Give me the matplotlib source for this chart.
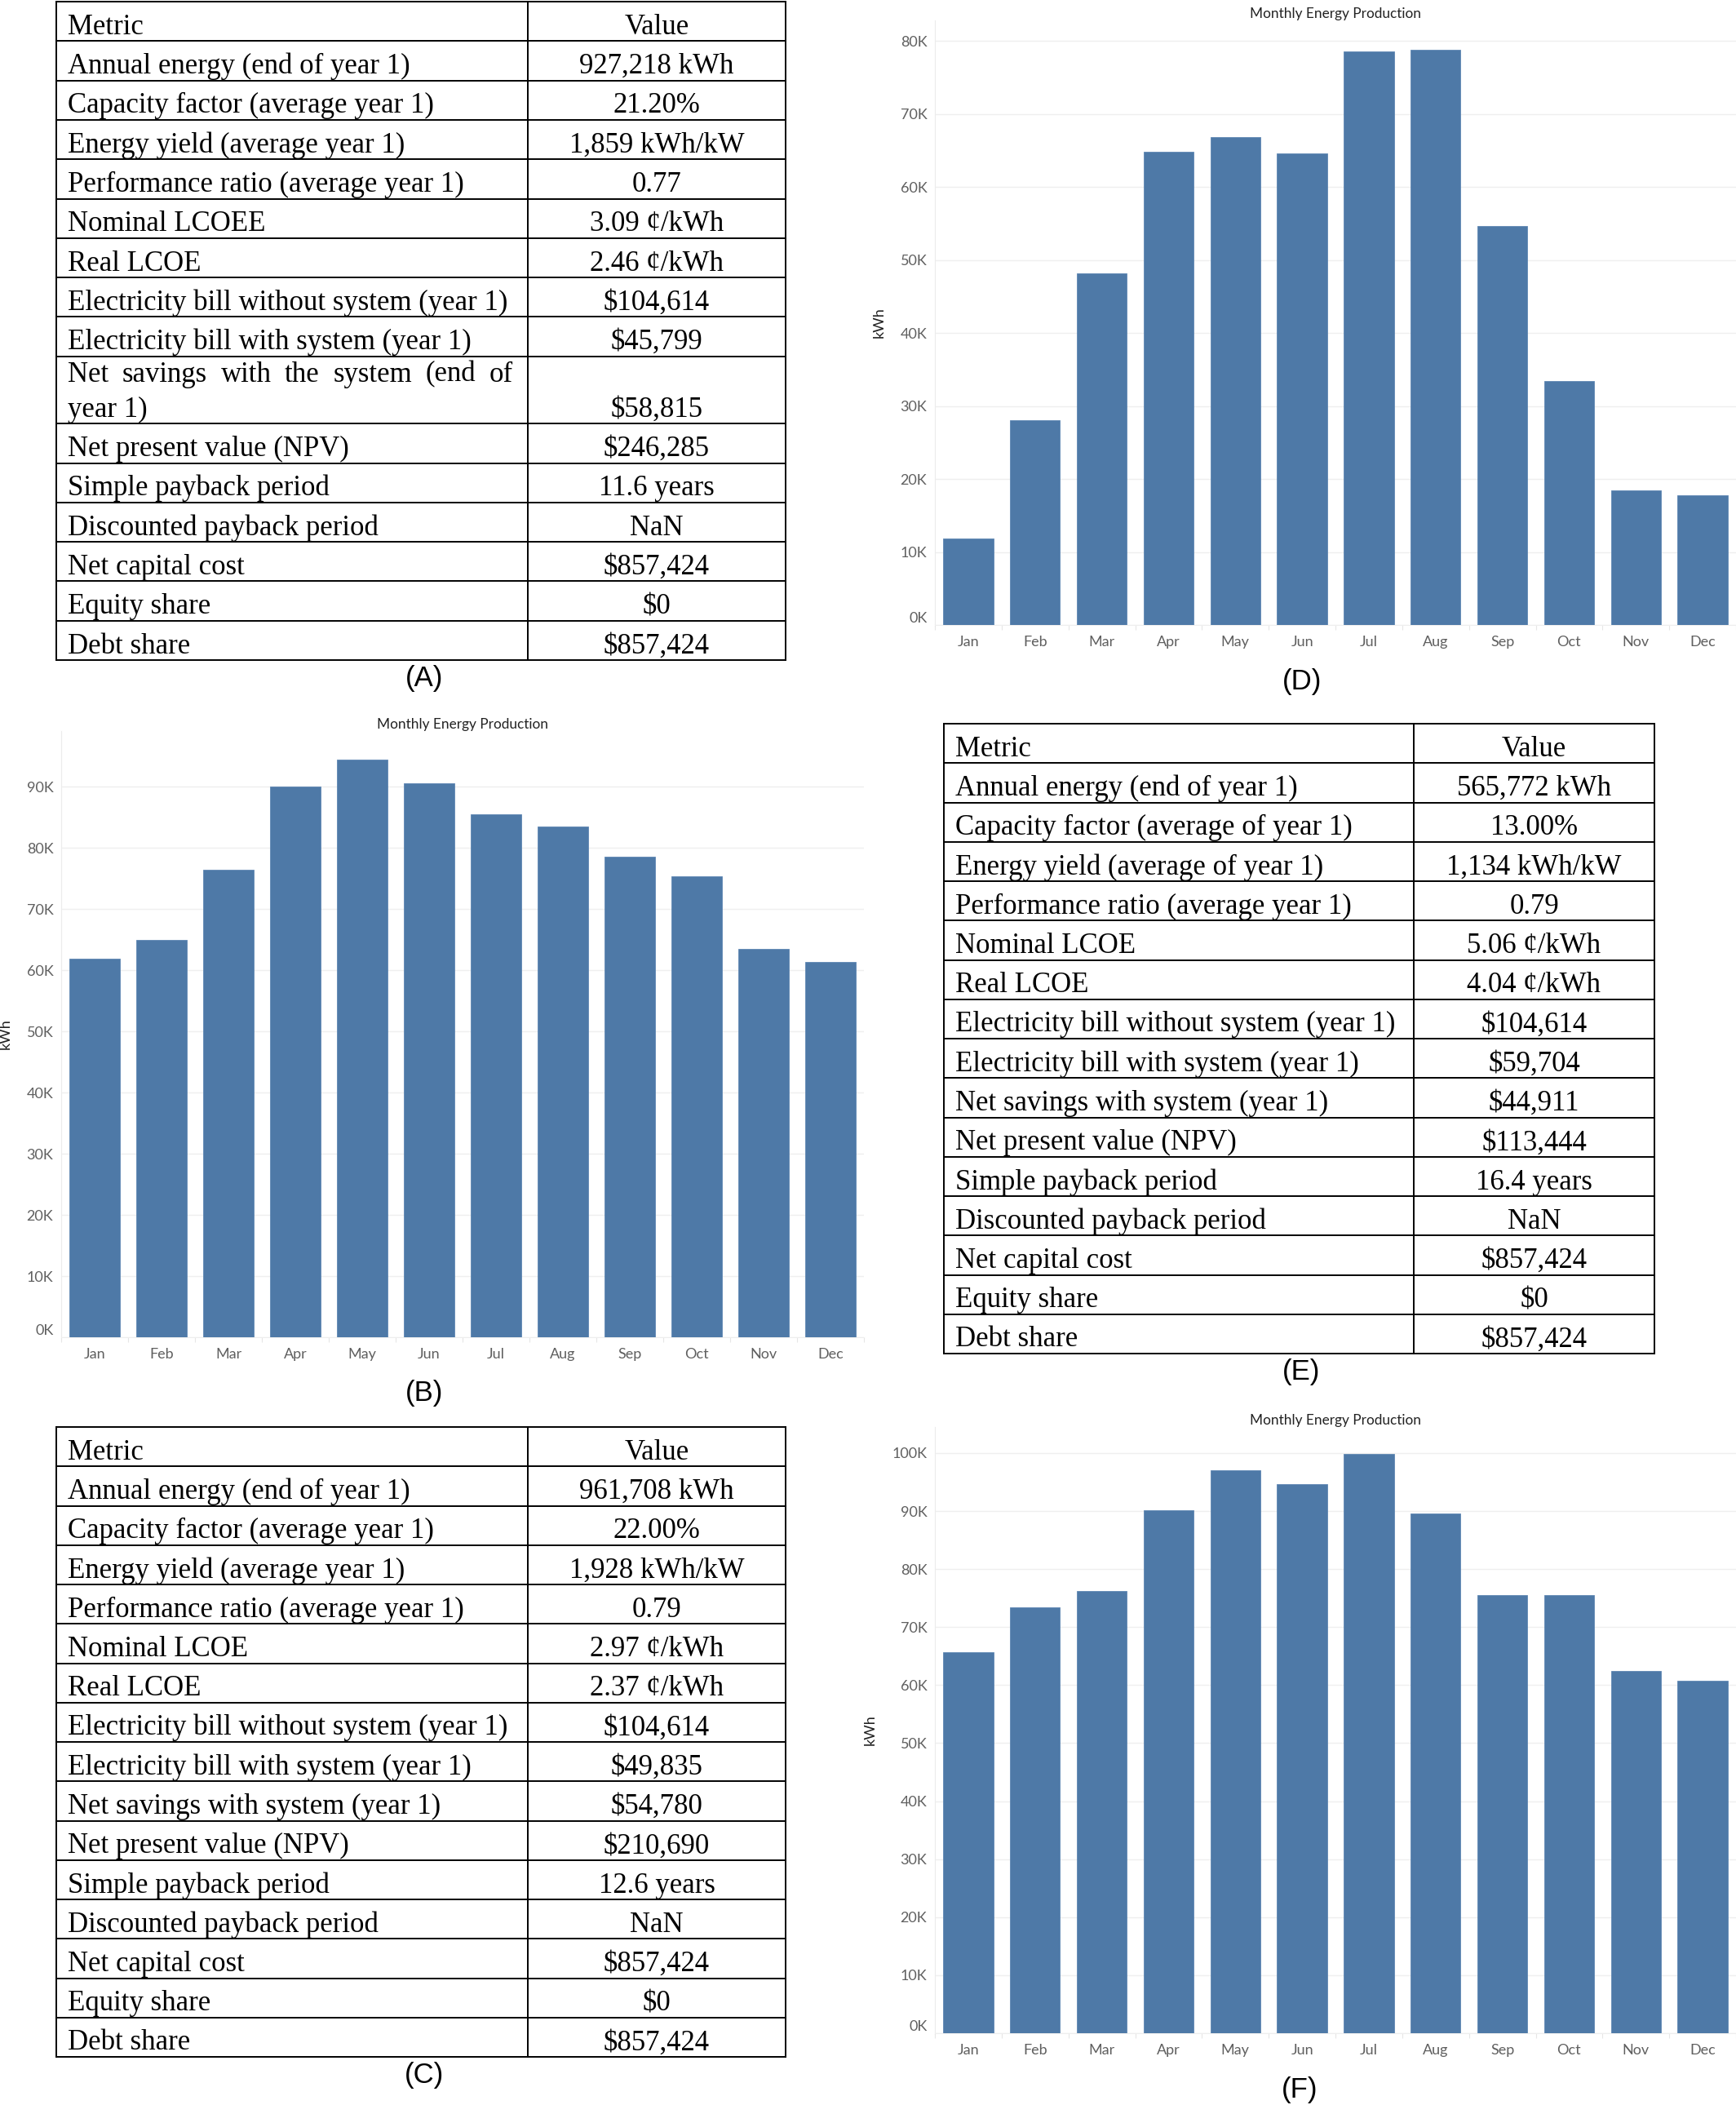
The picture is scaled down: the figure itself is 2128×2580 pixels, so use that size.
import matplotlib.pyplot as plt
from matplotlib.ticker import FuncFormatter, FixedLocator

# ---- data ----
months = ['Jan', 'Feb', 'Mar', 'Apr', 'May', 'Jun', 'Jul', 'Aug', 'Sep', 'Oct', 'Nov', 'Dec']
energy_b = [61900, 65000, 76400, 90000, 94400, 90500, 85500, 83500, 78600, 75400, 63500, 61300]
energy_d = [11900, 28000, 48200, 64800, 66800, 64600, 78500, 78800, 54600, 33400, 18400, 17800]
energy_f = [65700, 73400, 76300, 90100, 97100, 94600, 99800, 89600, 75500, 75500, 62500, 60700]

metrics_a = ['Annual energy (end of year 1)', 'Capacity factor (average year 1)',
             'Energy yield (average year 1)', 'Performance ratio (average year 1)',
             'Nominal LCOEE', 'Real LCOE', 'Electricity bill without system (year 1)',
             'Electricity bill with system (year 1)', 'Net savings with the system (end of year 1)',
             'Net present value (NPV)', 'Simple payback period', 'Discounted payback period',
             'Net capital cost', 'Equity share', 'Debt share']
values_a = ['927,218 kWh', '21.20%', '1,859 kWh/kW', '0.77', '3.09 ¢/kWh', '2.46 ¢/kWh',
            '$104,614', '$45,799', '$58,815', '$246,285', '11.6 years', 'NaN',
            '$857,424', '$0', '$857,424']

metrics_c = ['Annual energy (end of year 1)', 'Capacity factor (average year 1)',
             'Energy yield (average year 1)', 'Performance ratio (average year 1)',
             'Nominal LCOE', 'Real LCOE', 'Electricity bill without system (year 1)',
             'Electricity bill with system (year 1)', 'Net savings with system (year 1)',
             'Net present value (NPV)', 'Simple payback period', 'Discounted payback period',
             'Net capital cost', 'Equity share', 'Debt share']
values_c = ['961,708 kWh', '22.00%', '1,928 kWh/kW', '0.79', '2.97 ¢/kWh', '2.37 ¢/kWh',
            '$104,614', '$49,835', '$54,780', '$210,690', '12.6 years', 'NaN',
            '$857,424', '$0', '$857,424']

metrics_e = ['Annual energy (end of year 1)', 'Capacity factor (average of year 1)',
             'Energy yield (average of year 1)', 'Performance ratio (average year 1)',
             'Nominal LCOE', 'Real LCOE', 'Electricity bill without system (year 1)',
             'Electricity bill with system (year 1)', 'Net savings with system (year 1)',
             'Net present value (NPV)', 'Simple payback period', 'Discounted payback period',
             'Net capital cost', 'Equity share', 'Debt share']
values_e = ['565,772 kWh', '13.00%', '1,134 kWh/kW', '0.79', '5.06 ¢/kWh', '4.04 ¢/kWh',
            '$104,614', '$59,704', '$44,911', '$113,444', '16.4 years', 'NaN',
            '$857,424', '$0', '$857,424']

# ---- layout (pixels) ----
W, H = 2128, 2580
BAR_COLOR = '#4e79a7'
SERIF = 'Liberation Serif'
SANS = 'Lato'

fig = plt.figure(figsize=(W / 100, H / 100), dpi=100)
bg = fig.add_axes([0, 0, 1, 1])
bg.set_xlim(0, W)
bg.set_ylim(H, 0)
bg.axis('off')


def px_axes(x0, y0, x1, y1):
    return fig.add_axes([x0 / W, 1 - y1 / H, (x1 - x0) / W, (y1 - y0) / H])


def draw_table(left, div, right, top, metrics, values, row_h=48.3, wrap_row=None, wrap_h=82.6):
    """表格: 左列左对齐, 右列居中"""
    fs = 25
    lw = 1.4
    rows = [('Metric', 'Value')] + list(zip(metrics, values))
    y = top
    lines_y = [y]
    renderer = fig.canvas.get_renderer()
    for i, (m, v) in enumerate(rows):
        tall = wrap_row is not None and i - 1 == wrap_row
        h = wrap_h if tall else row_h
        base = y + h - 8.5
        if tall:
            # 两端对齐的第一行 + 第二行
            words = m.split()
            first, second = words[:-2], ' '.join(words[-2:])
            objs = [bg.text(0, y + 31, w, fontsize=fs, family=SERIF, va='baseline',
                            ha='left', parse_math=False) for w in first]
            widths = [o.get_window_extent(renderer).width for o in objs]
            x_end = div - 18
            gap = (x_end - (left + 14) - sum(widths)) / (len(objs) - 1)
            x = left + 14
            for o, wd in zip(objs, widths):
                o.set_x(x)
                x += wd + gap
            bg.text(left + 14, base, second, fontsize=fs, family=SERIF, va='baseline',
                    ha='left', parse_math=False)
        else:
            bg.text(left + 14, base, m, fontsize=fs, family=SERIF, va='baseline',
                    ha='left', parse_math=False)
        bg.text((div + right) / 2, base, v, fontsize=fs, family=SERIF, va='baseline',
                ha='center', parse_math=False)
        y += h
        lines_y.append(y)
    for ly in lines_y:
        bg.plot([left, right], [ly, ly], color='black', lw=lw, solid_capstyle='projecting')
    for lx in (left, div, right):
        bg.plot([lx, lx], [top, y], color='black', lw=lw, solid_capstyle='projecting')


def draw_bars(rect, values, ymax, yticks):
    ax = px_axes(*rect)
    x = list(range(len(months)))
    ax.bar(x, values, width=0.75, color=BAR_COLOR, edgecolor='#5f87b3', linewidth=0.6, zorder=3)
    ax.set_xlim(-0.5, len(months) - 0.5)
    ax.set_ylim(0, ymax)
    ax.set_yticks(yticks)
    ax.yaxis.set_major_formatter(FuncFormatter(lambda v, p: f'{int(v / 1000)}K'))
    ax.set_xticks(x)
    ax.set_xticklabels(months)
    ax.xaxis.set_minor_locator(FixedLocator([i - 0.5 for i in range(len(months) + 1)]))
    ax.tick_params(axis='x', which='major', length=0, pad=9.5, labelsize=13, labelcolor='#5f5f5f')
    ax.tick_params(axis='x', which='minor', length=4, width=0.8, color='#e6e6e6')
    ax.tick_params(axis='y', length=0, pad=7, labelsize=13, labelcolor='#5f5f5f')
    for lab in ax.get_xticklabels() + ax.get_yticklabels():
        lab.set_family(SANS)
    ax.get_yticklabels()[0].set_va('bottom')
    ax.grid(axis='y', color='#efefef', lw=1, zorder=0)
    for s in ('top', 'right'):
        ax.spines[s].set_visible(False)
    ax.spines['left'].set_color('#ececec')
    ax.spines['bottom'].set_color('#eeeeee')
    ax.spines['left'].set_linewidth(0.8)
    ax.spines['bottom'].set_linewidth(0.8)
    ax.set_title('Monthly Energy Production', fontsize=12.4, family=SANS, color='#222222', pad=1)
    ax.set_ylabel('kWh', fontsize=13, family=SANS, color='#222222', labelpad=13)
    return ax


# (A) table
draw_table(69, 647, 963, 2, metrics_a, values_a, wrap_row=8)
# (C) table
draw_table(69, 647, 963, 1749, metrics_c, values_c, row_h=48.25)
# (E) table
draw_table(1157, 1733, 2028, 887, metrics_e, values_e, row_h=48.25)

# (B) (D) (F) 柱状图
draw_bars((75, 896, 1059, 1639), energy_b, 99070, range(0, 90001, 10000))
draw_bars((1146, 25, 2128, 766), energy_d, 82800, range(0, 80001, 10000))
draw_bars((1146, 1749, 2128, 2492), energy_f, 104500, range(0, 100001, 10000))

# panel labels
for lab, (lx, ly) in {'(A)': (520, 831), '(B)': (520, 1708), '(C)': (520, 2544),
                      '(D)': (1596, 836), '(E)': (1595, 1682), '(F)': (1593, 2561)}.items():
    bg.text(lx, ly, lab, fontsize=25, family='Liberation Sans', ha='center', va='center')

fig.savefig('out.png', dpi=100)
